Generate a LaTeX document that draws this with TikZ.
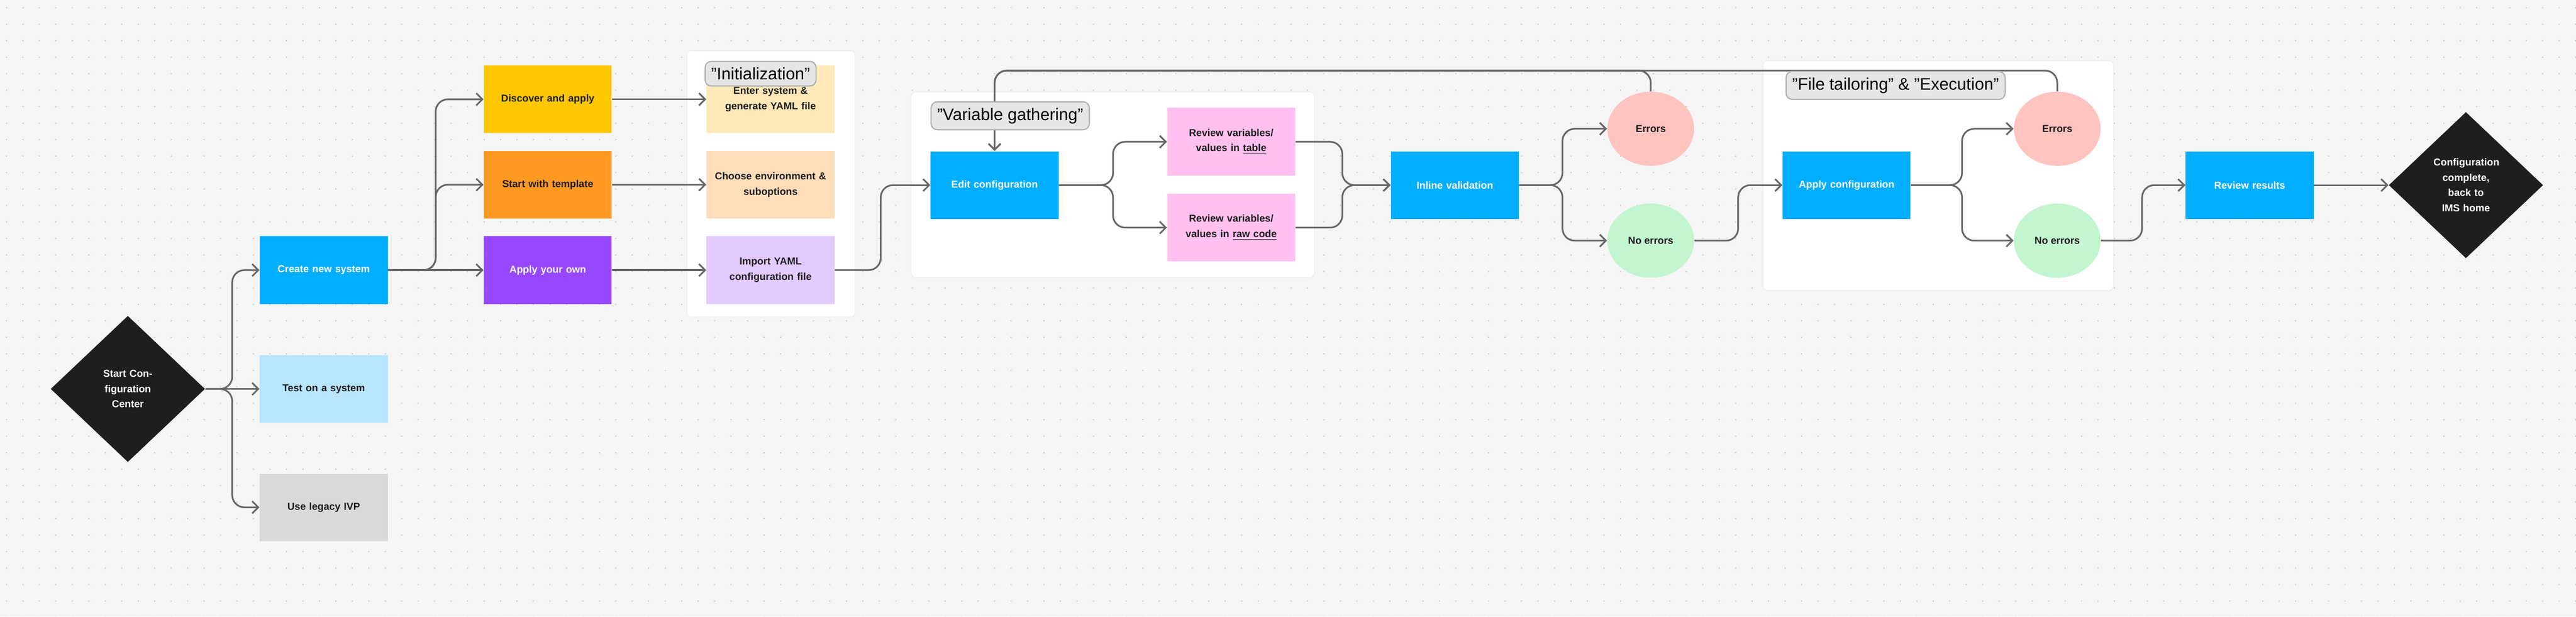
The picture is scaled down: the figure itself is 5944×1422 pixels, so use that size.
\documentclass[tikz,border=0pt]{standalone}
\usepackage{fontspec}
\setmainfont{Liberation Sans}
\usetikzlibrary{shapes.geometric,arrows.meta}
\definecolor{bg}{HTML}{F5F5F5}
\definecolor{dot}{HTML}{C4C4C4}
\definecolor{wire}{HTML}{676767}
\definecolor{cblue}{HTML}{00AEFF}
\definecolor{cyellow}{HTML}{FFC700}
\definecolor{corange}{HTML}{FF9922}
\definecolor{cpurple}{HTML}{9747FF}
\definecolor{lyellow}{HTML}{FFE8B8}
\definecolor{lorange}{HTML}{FFDDBB}
\definecolor{lpurple}{HTML}{E2CBFF}
\definecolor{lblue}{HTML}{B8E6FF}
\definecolor{lgrey}{HTML}{D9D9D9}
\definecolor{cpink}{HTML}{FFC0EF}
\definecolor{cred}{HTML}{FFC4C0}
\definecolor{cgreen}{HTML}{C2F5D0}
\definecolor{cblack}{HTML}{1E1E1E}
\definecolor{tagfill}{HTML}{E6E6E6}

\begin{document}
\begin{tikzpicture}[
  x=0.01cm, y=-0.01cm,
  box/.style={rectangle,minimum width=2.95cm,minimum height=1.56cm,inner sep=2pt,
    text width=2.7cm,align=center,font=\fontsize{6.6}{10}\selectfont\bfseries,text=cblack},
  wbox/.style={box,fill=cblue,text=white},
  blob/.style={ellipse,minimum width=2cm,minimum height=1.71cm,inner sep=0pt,
    font=\fontsize{6.6}{10}\selectfont\bfseries,text=cblack},
  gate/.style={diamond,fill=cblack,text=white,minimum width=3.56cm,minimum height=3.37cm,
    inner sep=0pt,text width=1.5cm,align=center,font=\fontsize{6.6}{10}\selectfont\bfseries},
  tag/.style={rectangle,rounded corners=4pt,fill=tagfill,draw=black!30,line width=0.8pt,
    inner xsep=4pt,inner ysep=4pt,font=\fontsize{11}{13}\selectfont},
  group/.style={fill=white,draw=black!8,rounded corners=3pt},
  link/.style={draw=wire,line width=1.1pt,rounded corners=8pt,-{Straight Barb[length=4pt,width=8pt]}}
  ]
  % canvas and dots
  \fill[bg] (0,0) rectangle (5944,1422);
  \useasboundingbox (0,0) rectangle (5944,1422);
  \foreach \i in {0,...,156}
    \foreach \j in {0,...,37}
      \fill[dot] (15+38*\i,18+38*\j) circle (1.6);

  % groups
  \path[group] (1585,117) rectangle (1973,731);
  \path[group] (2102,212) rectangle (3033,640);
  \path[group] (4068,140) rectangle (4877,670);

  % start column
  \node[gate] (Start) at (295,897) {Start Configuration Center};
  \node[wbox] (Create) at (747,623) {Create new system};
  \node[box,fill=lblue] (Test) at (747,897) {Test on a system};
  \node[box,fill=lgrey] (Legacy) at (747,1170) {Use legacy IVP};

  % initialization
  \node[box,fill=cyellow] (Discover) at (1264,229) {Discover and apply};
  \node[box,fill=corange] (Template) at (1264,426) {Start with template};
  \node[box,fill=cpurple,text=white] (Own) at (1264,623) {Apply your own};
  \node[box,fill=lyellow] (Enter) at (1778,229) {Enter system \&\\generate YAML file};
  \node[box,fill=lorange] (Choose) at (1778,426) {Choose environment \&\\suboptions};
  \node[box,fill=lpurple] (Import) at (1778,623) {Import YAML\\configuration file};

  % variable gathering
  \node[wbox] (Edit) at (2295,427) {Edit configuration};
  \node[box,fill=cpink] (RevTable) at (2841,327) {Review variables/\\values in \underline{table}};
  \node[box,fill=cpink] (RevCode) at (2841,525) {Review variables/\\values in \underline{raw code}};
  \node[wbox] (Inline) at (3357,427) {Inline validation};
  \node[blob,fill=cred] (Err1) at (3809,297) {Errors};
  \node[blob,fill=cgreen] (Ok1) at (3809,555) {No errors};

  % file tailoring & execution
  \node[wbox] (Apply) at (4261,427) {Apply configuration};
  \node[blob,fill=cred] (Err2) at (4747,297) {Errors};
  \node[blob,fill=cgreen] (Ok2) at (4747,555) {No errors};
  \node[wbox] (Results) at (5191,427) {Review results};
  \node[gate] (Done) at (5690,427) {Configuration complete, back to IMS home};

  % connectors
  \path[link] (Start.east) -- ++(62,0) |- (Create.west);
  \path[link] (Start.east) -- (Test.west);
  \path[link] (Start.east) -- ++(62,0) |- (Legacy.west);
  \path[link] (Create.east) -- ++(110,0) |- (Discover.west);
  \path[link] (Create.east) -- ++(110,0) |- (Template.west);
  \path[link] (Create.east) -- (Own.west);
  \path[link] (Discover.east) -- (Enter.west);
  \path[link] (Template.east) -- (Choose.west);
  \path[link] (Own.east) -- (Import.west);
  \path[link] (Import.east) -- ++(106,0) |- (Edit.west);
  \path[link] (Edit.east) -- ++(125,0) |- (RevTable.west);
  \path[link] (Edit.east) -- ++(125,0) |- (RevCode.west);
  \path[link] (RevTable.east) -- ++(108,0) |- (Inline.west);
  \path[link] (RevCode.east) -- ++(108,0) |- (Inline.west);
  \path[link] (Inline.east) -- ++(100,0) |- (Err1.west);
  \path[link] (Inline.east) -- ++(100,0) |- (Ok1.west);
  \path[link] (Ok1.east) -- ++(101,0) |- (Apply.west);
  \path[link] (Apply.east) -- ++(118,0) |- (Err2.west);
  \path[link] (Apply.east) -- ++(118,0) |- (Ok2.west);
  \path[link] (Ok2.east) -- ++(95,0) |- (Results.west);
  \path[link] (Results.east) -- (Done.west);
  \path[link] (Err1.north) -- ++(0,-48) -| (Edit.north);
  \path[link] (Err2.north) -- ++(0,-48) -| (Edit.north);

  % stage tags
  \node[tag] (TagInit) at (1755,170) {"Initialization"};
  \node[tag] (TagVar) at (2331,267) {"Variable gathering"};
  \node[tag] (TagFile) at (4374,197) {"File tailoring" \& "Execution"};
\end{tikzpicture}
\end{document}
